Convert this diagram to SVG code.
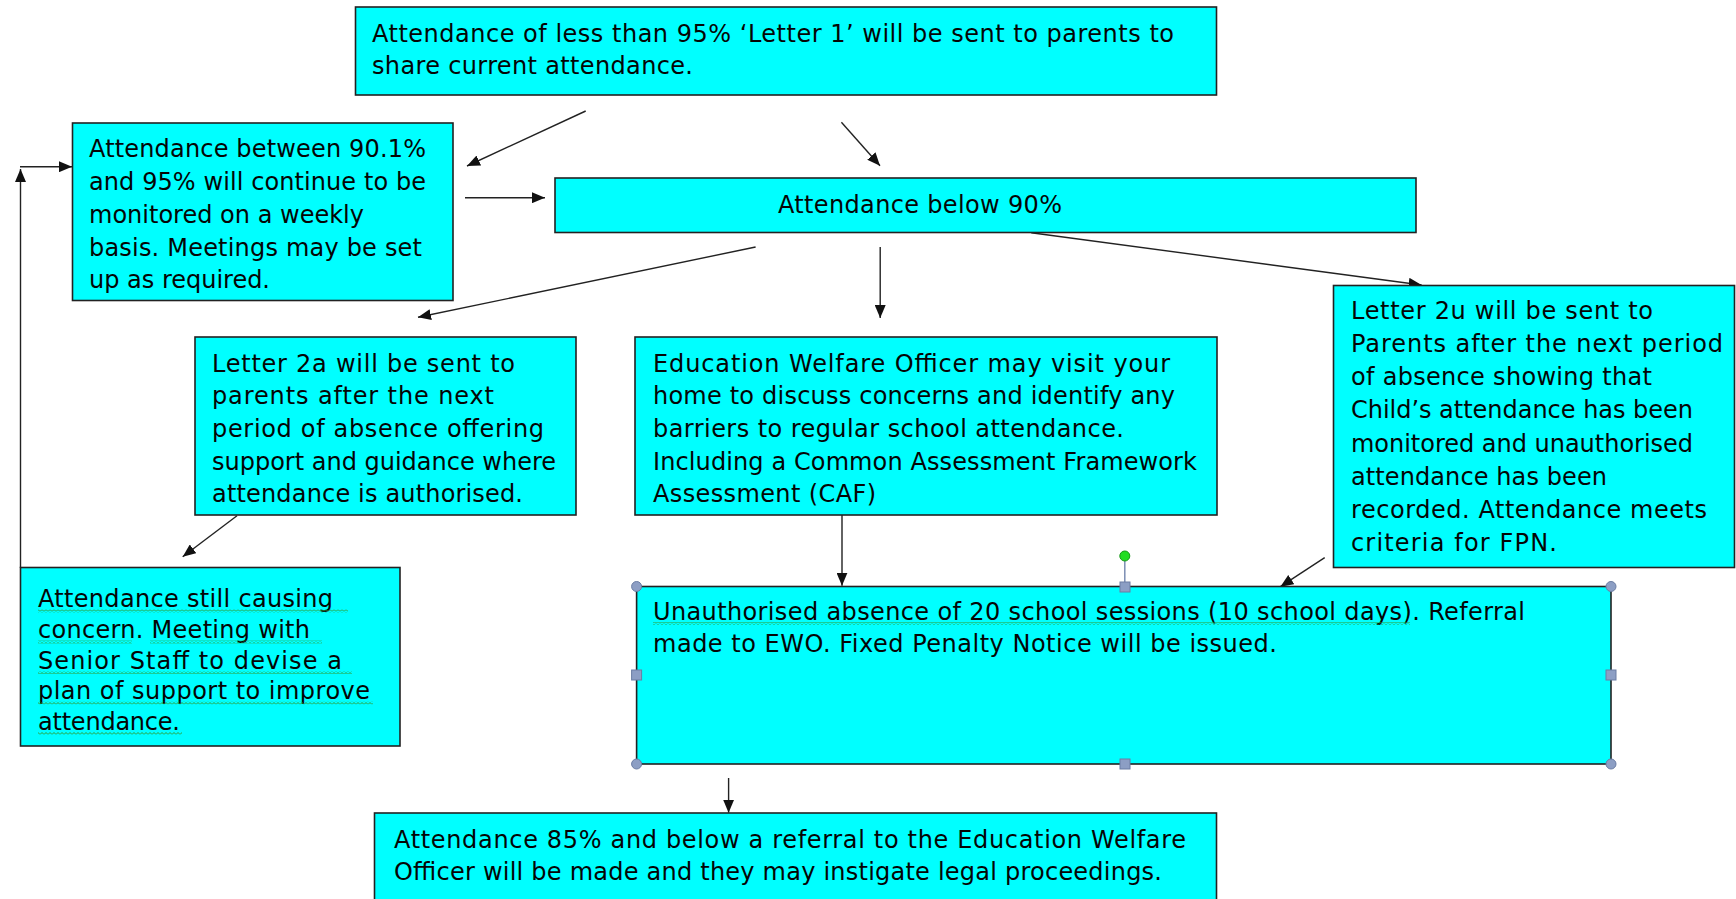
<svg xmlns="http://www.w3.org/2000/svg" width="1736" height="899" viewBox="0 0 1736 899">
<defs>
<style>
.box{fill:#00ffff;stroke:#222;stroke-width:1.6}
.t{font-family:"Comic Sans MS","DejaVu Sans",sans-serif;font-size:24px;fill:#050505}
.con{stroke:#222;stroke-width:1.4;fill:none}
.handle{fill:#8c9ec4;stroke:#6b7da3;stroke-width:1}
.wav{fill:url(#wavy)}
</style>
<marker id="arr" markerUnits="userSpaceOnUse" markerWidth="14" markerHeight="11" refX="13" refY="5.5" orient="auto">
<path d="M0,0 L13,5.5 L0,11 z" fill="#111"/>
</marker>
<pattern id="wavy" width="4" height="3" patternUnits="userSpaceOnUse">
<path d="M0,2.5 L2,0.5 L4,2.5" fill="none" stroke="#2f9a2f" stroke-width="1"/>
</pattern>
</defs>

<g id="connectors">
<line class="con" x1="585.7" y1="111" x2="467" y2="166" marker-end="url(#arr)"/>
<line class="con" x1="841.4" y1="122.3" x2="880" y2="165.7" marker-end="url(#arr)"/>
<line class="con" x1="465" y1="197.7" x2="545" y2="197.7" marker-end="url(#arr)"/>
<line class="con" x1="755.6" y1="247" x2="418" y2="317.3" marker-end="url(#arr)"/>
<line class="con" x1="880.2" y1="247" x2="880.2" y2="318" marker-end="url(#arr)"/>
<line class="con" x1="1031.3" y1="232.7" x2="1421.6" y2="285" marker-end="url(#arr)"/>
<line class="con" x1="20.5" y1="568" x2="20.5" y2="169" marker-end="url(#arr)"/>
<line class="con" x1="20" y1="166.7" x2="72" y2="166.7" marker-end="url(#arr)"/>
<line class="con" x1="237" y1="515.7" x2="182.7" y2="556.7" marker-end="url(#arr)"/>
<line class="con" x1="842" y1="515" x2="842" y2="585.7" marker-end="url(#arr)"/>
<line class="con" x1="1324.7" y1="557.7" x2="1280.4" y2="586.7" marker-end="url(#arr)"/>
<line class="con" x1="728.6" y1="778" x2="728.6" y2="812.7" marker-end="url(#arr)"/>
</g>

<g id="n1">
<rect class="box" x="355.5" y="7" width="861" height="88"/>
<text class="t" x="372" y="41.5" textLength="802">Attendance of less than 95% ‘Letter 1’ will be sent to parents to</text>
<text class="t" x="372" y="73.5" textLength="321">share current attendance.</text>
</g>

<g id="n2">
<rect class="box" x="72.5" y="123" width="380.5" height="177.5"/>
<text class="t" x="89" y="157" textLength="337">Attendance between 90.1%</text>
<text class="t" x="89" y="190" textLength="337">and 95% will continue to be</text>
<text class="t" x="89" y="223" textLength="275">monitored on a weekly</text>
<text class="t" x="89" y="256" textLength="333">basis. Meetings may be set</text>
<text class="t" x="89" y="288" textLength="181">up as required.</text>
</g>

<g id="n3">
<rect class="box" x="555" y="178" width="861" height="54.5"/>
<text class="t" x="778" y="212.5" textLength="284">Attendance below 90%</text>
</g>

<g id="n4">
<rect class="box" x="195" y="337" width="381" height="178"/>
<text class="t" x="212" y="371.5" textLength="303">Letter 2a will be sent to</text>
<text class="t" x="212" y="404" textLength="282">parents after the next</text>
<text class="t" x="212" y="437" textLength="332">period of absence offering</text>
<text class="t" x="212" y="470" textLength="344">support and guidance  where</text>
<text class="t" x="212" y="502" textLength="311">attendance is authorised.</text>
</g>

<g id="n5">
<rect class="box" x="635" y="337" width="582" height="178"/>
<text class="t" x="653" y="371.5" textLength="517">Education  Welfare Officer may visit your</text>
<text class="t" x="653" y="404" textLength="522">home to discuss concerns  and identify any</text>
<text class="t" x="653" y="437" textLength="471">barriers to regular school attendance.</text>
<text class="t" x="653" y="470" textLength="544">Including a Common Assessment Framework</text>
<text class="t" x="653" y="502" textLength="223">Assessment (CAF)</text>
</g>

<g id="n6">
<rect class="box" x="1333.5" y="285.5" width="401" height="282"/>
<text class="t" x="1351" y="319" textLength="302">Letter 2u will be sent to</text>
<text class="t" x="1351" y="352" textLength="372">Parents after the next period</text>
<text class="t" x="1351" y="385" textLength="301">of absence showing that</text>
<text class="t" x="1351" y="418" textLength="342">Child’s attendance has been</text>
<text class="t" x="1351" y="451.5" textLength="342">monitored and unauthorised</text>
<text class="t" x="1351" y="484.5" textLength="256">attendance has been</text>
<text class="t" x="1351" y="518" textLength="356">recorded. Attendance meets</text>
<text class="t" x="1351" y="551" textLength="206">criteria for FPN.</text>
</g>

<g id="n7">
<rect class="box" x="20.5" y="567.5" width="379.5" height="178.5"/>
<text class="t" x="38" y="607" textLength="295">Attendance still causing</text>
<text class="t" x="38" y="638" textLength="272">concern.  Meeting with</text>
<text class="t" x="38" y="668.5" textLength="304">Senior Staff to devise a</text>
<text class="t" x="38" y="699" textLength="332">plan of support to improve</text>
<text class="t" x="38" y="729.5" textLength="142">attendance.</text>
<rect class="wav" x="38" y="609.5" width="310" height="3"/>
<rect class="wav" x="38" y="640.5" width="94" height="3"/>
<rect class="wav" x="150" y="640.5" width="172" height="3"/>
<rect class="wav" x="38" y="671" width="314" height="3"/>
<rect class="wav" x="38" y="701.5" width="335" height="3"/>
<rect class="wav" x="38" y="732" width="144" height="3"/>
</g>

<g id="n8">
<rect class="box" x="636.6" y="586.5" width="974.4" height="177.5"/>
<text class="t" x="653" y="619.5" textLength="872">Unauthorised absence of 20 school sessions (10 school days). Referral</text>
<text class="t" x="653" y="652" textLength="624">made to EWO. Fixed Penalty Notice will be issued.</text>
<rect class="wav" x="653" y="622" width="757" height="3"/>
<line x1="1124.8" y1="560" x2="1124.8" y2="582" stroke="#7b8db3" stroke-width="1.5"/>
<circle cx="1124.8" cy="556" r="5" fill="#22dd22" stroke="#159915" stroke-width="1"/>
<circle class="handle" cx="636.6" cy="586.5" r="5"/>
<circle class="handle" cx="1611" cy="586.5" r="5"/>
<circle class="handle" cx="636.6" cy="764" r="5"/>
<circle class="handle" cx="1611" cy="764" r="5"/>
<rect class="handle" x="1120" y="582" width="10" height="10"/>
<rect class="handle" x="1120" y="759" width="10" height="10"/>
<rect class="handle" x="631.6" y="670" width="10" height="10"/>
<rect class="handle" x="1606" y="670" width="10" height="10"/>
</g>

<g id="n9">
<rect class="box" x="374.5" y="813" width="842" height="100"/>
<text class="t" x="394" y="848" textLength="792">Attendance 85% and below a referral to the Education  Welfare</text>
<text class="t" x="394" y="879.5" textLength="768">Officer will be made and they may instigate legal proceedings.</text>
</g>
</svg>
